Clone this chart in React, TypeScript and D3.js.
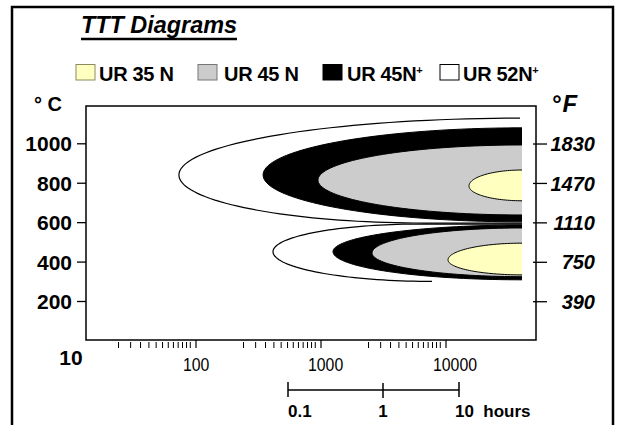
import React from 'react';
import * as d3 from 'd3';

// draw order: outer curves first
const series = ['UR 52N+', 'UR 45N+', 'UR 45 N', 'UR 35 N'];
const fills = ['#ffffff', '#000000', '#cccccc', '#ffffc0'];

// upper nose group, points as [time s, temp °C]
const upperNose = [[73, 842], [344, 842], [946, 816], [15280, 786]];
const upperTop = [[39080, 1130], [40550, 1081], [40550, 994], [40550, 867]];
const upperBottom = [[6670, 598], [40550, 604], [40550, 639], [40550, 711]];
const upperTopEnd = [39080, 40550, 40550, 40550];
const upperBottomEnd = [40550, 40550, 40550, 40550];

// lower nose group
const lowerNose = [[413, 453], [1247, 453], [2559, 446], [10380, 411]];
const lowerTop = [[6194, 593], [40550, 588], [40550, 573], [40550, 496]];
const lowerBottom = [[7727, 302], [40550, 310], [40550, 326], [40550, 335]];
const lowerTopEnd = [40550, 40550, 40550, 40550];
const lowerBottomEnd = [7727, 40550, 40550, 40550];

const celsiusTicks = [1000, 800, 600, 400, 200];
const fahrenheitTicks = [1830, 1470, 1110, 750, 390];
const timeMajor = [100, 1000, 10000];
const minorSteps = [2.4, 3, 3.6, 4.2, 4.8, 5.4, 6, 6.6, 7.2, 7.8, 8.4, 9];
const decades = [10, 100, 1000];
const hourTicks = [0.1, 1, 10];

const legendOrder = ['UR 35 N', 'UR 45 N', 'UR 45N+', 'UR 52N+'];

const W = 621;
const H = 425;
const plot = { left: 86, top: 106, right: 536, bottom: 340 };
const font = "'Liberation Sans', Arial, sans-serif";

const x = d3.scaleLog().domain([10, 52480]).range([71, 536]);
const y = d3.scaleLinear().domain([200, 1000]).range([301.5, 143.8]);
const hx = d3.scaleLog().domain([0.1, 1, 10]).range([288, 383, 459]);
const f2c = (f: number) => ((f - 32) * 5) / 9;

const line = d3.line();

function cShape(nose: number[], top: number[], bottom: number[], topEnd: number, botEnd: number) {
  const xn = x(nose[0]);
  const yn = y(nose[1]);
  const quarter = (xf: number, yf: number) =>
    d3.range(0, 41).map((i) => {
      const a = (i / 40) * (Math.PI / 2);
      return [xf - (xf - xn) * Math.cos(a), yn + (yf - yn) * Math.sin(a)] as [number, number];
    });
  const yt = y(top[1]);
  const yb = y(bottom[1]);
  const topPts = quarter(x(top[0]), yt).reverse();
  const botPts = quarter(x(bottom[0]), yb);
  const pts: [number, number][] = [[x(topEnd), yt], ...topPts, ...botPts.slice(1), [x(botEnd), yb]];
  const d = line(pts) || '';
  return { outline: d, area: d + 'Z' };
}

const App: React.FC = () => {
  const minorTicks = decades
    .flatMap((d) => minorSteps.map((s) => d * s))
    .filter((v) => x(v) > plot.left + 2);

  const shapes = series.flatMap((name, i) => [
    { key: `u-${name}`, i, ...cShape(upperNose[i], upperTop[i], upperBottom[i], upperTopEnd[i], upperBottomEnd[i]) },
    { key: `l-${name}`, i, ...cShape(lowerNose[i], lowerTop[i], lowerBottom[i], lowerTopEnd[i], lowerBottomEnd[i]) },
  ]);

  const legendX = [76, 198, 323, 440];
  const legendGap = [4, 7, 5, 4];

  return (
    <svg width={W} height={H} style={{ position: 'absolute', left: 0, top: 0 }} fontFamily={font}>
      <rect x={0} y={0} width={W} height={H} fill="#fff" />
      {/* outer frame */}
      <rect x={12} y={7} width={601} height={460} fill="none" stroke="#000" strokeWidth={2.5} />

      {/* title */}
      <text x={81} y={33} fontSize={23} fontWeight="bold" fontStyle="italic" textLength={156} lengthAdjust="spacingAndGlyphs">
        TTT Diagrams
      </text>
      <line x1={81} x2={237} y1={39} y2={39} stroke="#000" strokeWidth={2.5} />

      {/* legend */}
      {legendOrder.map((name, i) => {
        const idx = series.indexOf(name);
        const plus = name.endsWith('+');
        const label = plus ? name.slice(0, -1) : name;
        const bx = legendX[i];
        return (
          <g key={name}>
            <rect x={bx} y={64.5} width={19} height={15.5} fill={fills[idx]} stroke={idx === 2 ? '#777' : idx === 3 ? '#8a8a60' : '#000'} strokeWidth={1} />
            <text x={bx + 19 + legendGap[i]} y={81} fontSize={20} fontWeight="bold" letterSpacing={-0.3}>
              {label}
              {plus && (
                <tspan fontSize={11} dy={-7} dx={0}>
                  +
                </tspan>
              )}
            </text>
          </g>
        );
      })}

      {/* axis units */}
      <text x={34} y={111} fontSize={20} fontWeight="bold">
        ° C
      </text>
      <text x={551} y={112} fontSize={24} fontWeight="bold" fontStyle="italic">
        °<tspan dx={2}>F</tspan>
      </text>

      {/* curves */}
      {shapes.map((s) => (
        <g key={s.key}>
          <path d={s.area} fill={fills[s.i]} stroke="none" />
          <path d={s.outline} fill="none" stroke="#000" strokeWidth={s.i === 0 ? 1.2 : 1} />
        </g>
      ))}

      {/* plot frame */}
      <rect x={plot.left} y={plot.top} width={plot.right - plot.left} height={plot.bottom - plot.top} fill="none" stroke="#000" strokeWidth={1.5} />

      {/* left axis */}
      {celsiusTicks.map((t) => (
        <g key={`c${t}`}>
          <line x1={77} x2={plot.left} y1={y(t)} y2={y(t)} stroke="#000" strokeWidth={1.3} />
          <text x={72} y={y(t)} dy="0.36em" textAnchor="end" fontSize={21} fontWeight="bold">
            {t}
          </text>
        </g>
      ))}

      {/* right axis */}
      {fahrenheitTicks.map((t) => (
        <g key={`f${t}`}>
          <line x1={533} x2={547} y1={y(f2c(t))} y2={y(f2c(t))} stroke="#000" strokeWidth={1.3} />
          <text x={595} y={y(f2c(t))} dy="0.36em" textAnchor="end" fontSize={20} fontWeight="bold" fontStyle="italic">
            {t}
          </text>
        </g>
      ))}

      {/* time axis */}
      {minorTicks.map((v) => (
        <line key={`m${v}`} x1={x(v)} x2={x(v)} y1={plot.bottom + 2} y2={plot.bottom + 8} stroke="#000" strokeWidth={1} />
      ))}
      {timeMajor.map((v) => (
        <g key={`t${v}`}>
          <line x1={x(v)} x2={x(v)} y1={plot.bottom} y2={plot.bottom + 8} stroke="#000" strokeWidth={1.2} />
          <text x={x(v) - 13} y={371} fontSize={19} textLength={String(v).length * 8.8} lengthAdjust="spacingAndGlyphs">
            {v}
          </text>
        </g>
      ))}
      <text x={x(10)} y={365} textAnchor="middle" fontSize={21} fontWeight="bold">
        10
      </text>

      {/* hours scale */}
      <line x1={hx(0.1)} x2={hx(10)} y1={390} y2={390} stroke="#000" strokeWidth={1.5} />
      {hourTicks.map((h, i) => (
        <g key={`h${h}`}>
          <line x1={hx(h)} x2={hx(h)} y1={i === 1 ? 383 : 382} y2={i === 1 ? 398 : 397} stroke="#000" strokeWidth={1.5} />
          <text
            x={i === 0 ? hx(h) : i === 1 ? hx(h) : hx(h) - 4}
            y={417}
            textAnchor={i === 1 ? 'middle' : 'start'}
            fontSize={17}
            fontWeight="bold"
            style={{ whiteSpace: 'pre' }}
          >
            {i === hourTicks.length - 1 ? `${h}  hours` : h}
          </text>
        </g>
      ))}
    </svg>
  );
};

export default App;
